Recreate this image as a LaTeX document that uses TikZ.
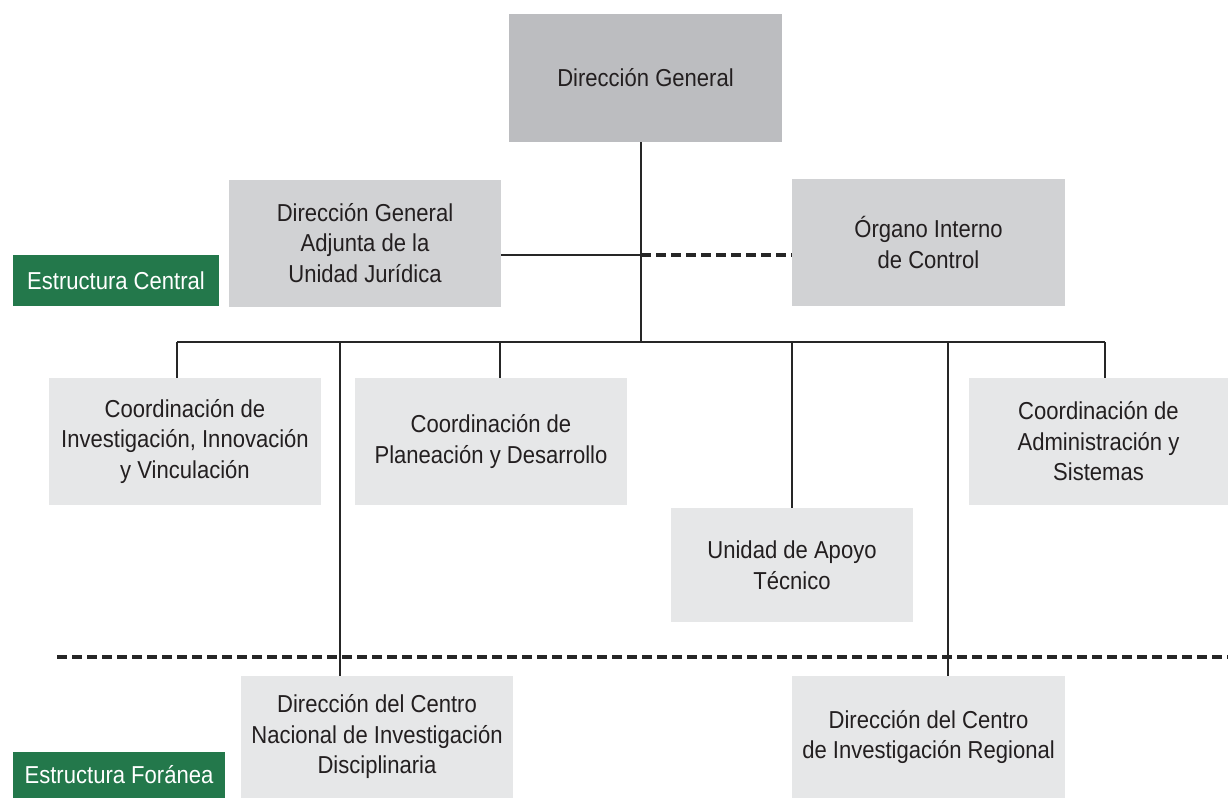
\documentclass[tikz,border=0pt]{standalone}
\usepackage{fontspec}
\setmainfont{Liberation Sans}[FakeStretch=0.9]
\definecolor{boxA}{HTML}{BCBDC0}
\definecolor{boxB}{HTML}{D1D2D4}
\definecolor{boxC}{HTML}{E6E7E8}
\definecolor{greenlab}{HTML}{23784B}
\definecolor{txt}{HTML}{231F20}
\definecolor{lin}{HTML}{262626}
\tikzset{
  orgbox/.style={rectangle, inner sep=0pt, align=center, text=txt,
    font=\fontsize{24.5}{30.5}\selectfont},
  lvlA/.style={orgbox, fill=boxA},
  lvlB/.style={orgbox, fill=boxB},
  lvlC/.style={orgbox, fill=boxC},
  labelbox/.style={rectangle, inner sep=0pt, fill=greenlab, text=white,
    font=\fontsize{24.5}{30}\selectfont},
  solidline/.style={draw=lin, line width=2.2pt},
  dashline/.style={draw=lin, line width=3.2pt, dash pattern=on 10pt off 5pt},
}
\begin{document}
\begin{tikzpicture}[x=1pt,y=-1pt]
\useasboundingbox (0,0) rectangle (1228,798);
% boxes
\node[lvlA, minimum width=273pt, minimum height=128pt] (dg) at (645.5,78) {Dirección General};
\node[lvlB, minimum width=272pt, minimum height=127pt] (dga) at (365,243) {Dirección General\\Adjunta de la\\Unidad Jurídica};
\node[lvlB, minimum width=273pt, minimum height=127pt] (oic) at (928.5,242.5) {Órgano Interno\\de Control};
\node[labelbox, minimum width=206pt, minimum height=51pt] (ec) at (116,280.5) {Estructura Central};
\node[lvlC, minimum width=272pt, minimum height=127pt] (cin) at (185,441.5) {Coordinación de\\Investigación, Innovación\\y Vinculación};
\node[lvlC, minimum width=272pt, minimum height=127pt] (cpd) at (491,441.5) {Coordinación de\\Planeación y Desarrollo};
\node[lvlC, minimum width=259pt, minimum height=127pt] (cas) at (1098.5,441.5) {Coordinación de\\Administración y\\Sistemas};
\node[lvlC, minimum width=242pt, minimum height=114pt] (uat) at (792,565) {Unidad de Apoyo\\Técnico};
\node[lvlC, minimum width=272pt, minimum height=122pt] (cni) at (377,737) {Dirección del Centro\\Nacional de Investigación\\Disciplinaria};
\node[lvlC, minimum width=273pt, minimum height=122pt] (cir) at (928.5,737) {Dirección del Centro\\de Investigación Regional};
\node[labelbox, minimum width=212pt, minimum height=46pt] (ef) at (119,775) {Estructura Foránea};
% coordinates
\coordinate (tr) at (641,342);
\coordinate (jx) at (641,255);
\coordinate (b1) at (177,342);
\coordinate (b2) at (340,342);
\coordinate (b3) at (500,342);
\coordinate (b4) at (792,342);
\coordinate (b5) at (948,342);
\coordinate (b6) at (1105,342);
\coordinate (dl) at (57,657);
\coordinate (dr) at (1228,657);
% connectors
\draw[solidline] (dg.south -| tr) -- (tr);
\draw[solidline] (dga.east |- jx) -- (jx);
\draw[dashline] (jx) -- (oic.west |- jx);
\draw[dashline] (dl) -- (dr);
\draw[solidline] (b1) -- (b6);
\draw[solidline] (b1) -- (b1 |- cin.north);
\draw[solidline] (b2) -- (b2 |- cni.north);
\draw[solidline] (b3) -- (b3 |- cpd.north);
\draw[solidline] (b4) -- (b4 |- uat.north);
\draw[solidline] (b5) -- (b5 |- cir.north);
\draw[solidline] (b6) -- (b6 |- cas.north);
\end{tikzpicture}
\end{document}
